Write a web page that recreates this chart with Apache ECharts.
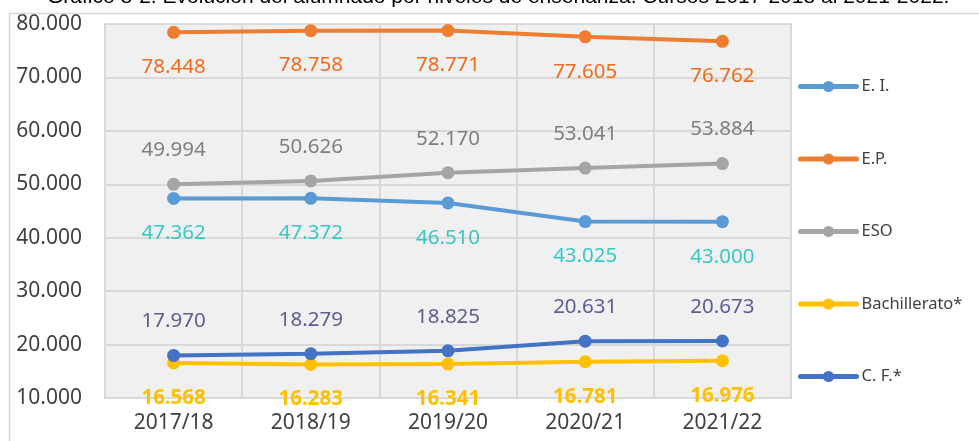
<!DOCTYPE html>
<html>
<head>
<meta charset="utf-8">
<script src="https://cdn.jsdelivr.net/npm/echarts@6/dist/echarts.min.js"></script>
<style>
  html, body { margin: 0; padding: 0; background: #fff; }
  #chart { width: 979px; height: 441px; }
</style>
</head>
<body>
<div id="chart"></div>
<script>
const cursos = ['2017/18', '2018/19', '2019/20', '2020/21', '2021/22'];
const infantil = [47362, 47372, 46510, 43025, 43000];
const primaria = [78448, 78758, 78771, 77605, 76762];
const eso = [49994, 50626, 52170, 53041, 53884];
const bachillerato = [16568, 16283, 16341, 16781, 16976];
const fp = [17970, 18279, 18825, 20631, 20673];

const FONT = '"Noto Sans", sans-serif';

// separador de miles con punto
function miles(v) {
  return String(Math.round(v)).replace(/\B(?=(\d{3})+(?!\d))/g, '.');
}

function serie(name, data, color, labelColor, pos, bold) {
  return {
    name: name,
    type: 'line',
    data: data,
    symbol: 'circle',
    symbolSize: 13,
    lineStyle: { color: color, width: 4 },
    itemStyle: { color: color },
    label: {
      show: true,
      position: pos,
      distance: pos === 'bottom' ? 18 : 17,
      color: labelColor,
      fontSize: 20.5,
      fontWeight: bold ? 'bold' : 'normal',
      fontFamily: FONT,
      formatter: p => miles(p.value)
    }
  };
}

const chart = echarts.init(document.getElementById('chart'));
chart.setOption({
  animation: false,
  backgroundColor: '#fff',
  title: {
    text: 'Gráfico 8-2. Evolución del alumnado por niveles de enseñanza. Cursos 2017-2018 al 2021-2022.',
    left: 42,
    top: -18,
    textStyle: { fontFamily: '"Liberation Sans", Arial, sans-serif', fontSize: 21, fontWeight: 'normal', color: '#000' }
  },
  graphic: [{
    type: 'rect',
    shape: { x: 9.5, y: 13.5, width: 1000, height: 500 },
    style: { fill: 'none', stroke: '#d9d9d9', lineWidth: 1.5 },
    silent: true,
    z: 100
  }],
  grid: {
    left: 105, right: 188, top: 24, bottom: 43,
    show: true,
    backgroundColor: '#f0f0f0',
    borderColor: '#d9d9d9',
    borderWidth: 2
  },
  legend: {
    orient: 'vertical',
    left: 793,
    top: 73,
    itemWidth: 56,
    itemHeight: 14,
    itemGap: 55.5,
    lineStyle: { width: 5, cap: 'round' },
    textStyle: { fontFamily: FONT, fontSize: 16.5, color: '#404040' },
    data: ['E. I.', 'E.P.', 'ESO', 'Bachillerato*', 'C. F.*']
  },
  xAxis: {
    type: 'category',
    data: cursos,
    boundaryGap: true,
    axisLine: { show: false },
    axisTick: { show: false },
    axisLabel: { color: '#404040', fontSize: 21, fontFamily: FONT, margin: 15 },
    splitLine: { show: true, interval: 0, lineStyle: { color: '#d9d9d9', width: 2 } }
  },
  yAxis: {
    type: 'value',
    min: 10000,
    max: 80000,
    interval: 10000,
    axisLine: { show: false },
    axisTick: { show: false },
    axisLabel: { color: '#404040', fontSize: 21, fontFamily: FONT, margin: 23, formatter: v => miles(v) },
    splitLine: { lineStyle: { color: '#d9d9d9', width: 2 } }
  },
  series: [
    serie('E. I.', infantil, '#5b9bd5', '#36c9c6', 'bottom'),
    serie('E.P.', primaria, '#ed7d31', '#f26b1d', 'bottom'),
    serie('ESO', eso, '#a5a5a5', '#7f7f7f', 'top'),
    serie('Bachillerato*', bachillerato, '#ffc000', '#ffc000', 'bottom', true),
    serie('C. F.*', fp, '#4472c4', '#5e5e94', 'top')
  ]
});
</script>
</body>
</html>
